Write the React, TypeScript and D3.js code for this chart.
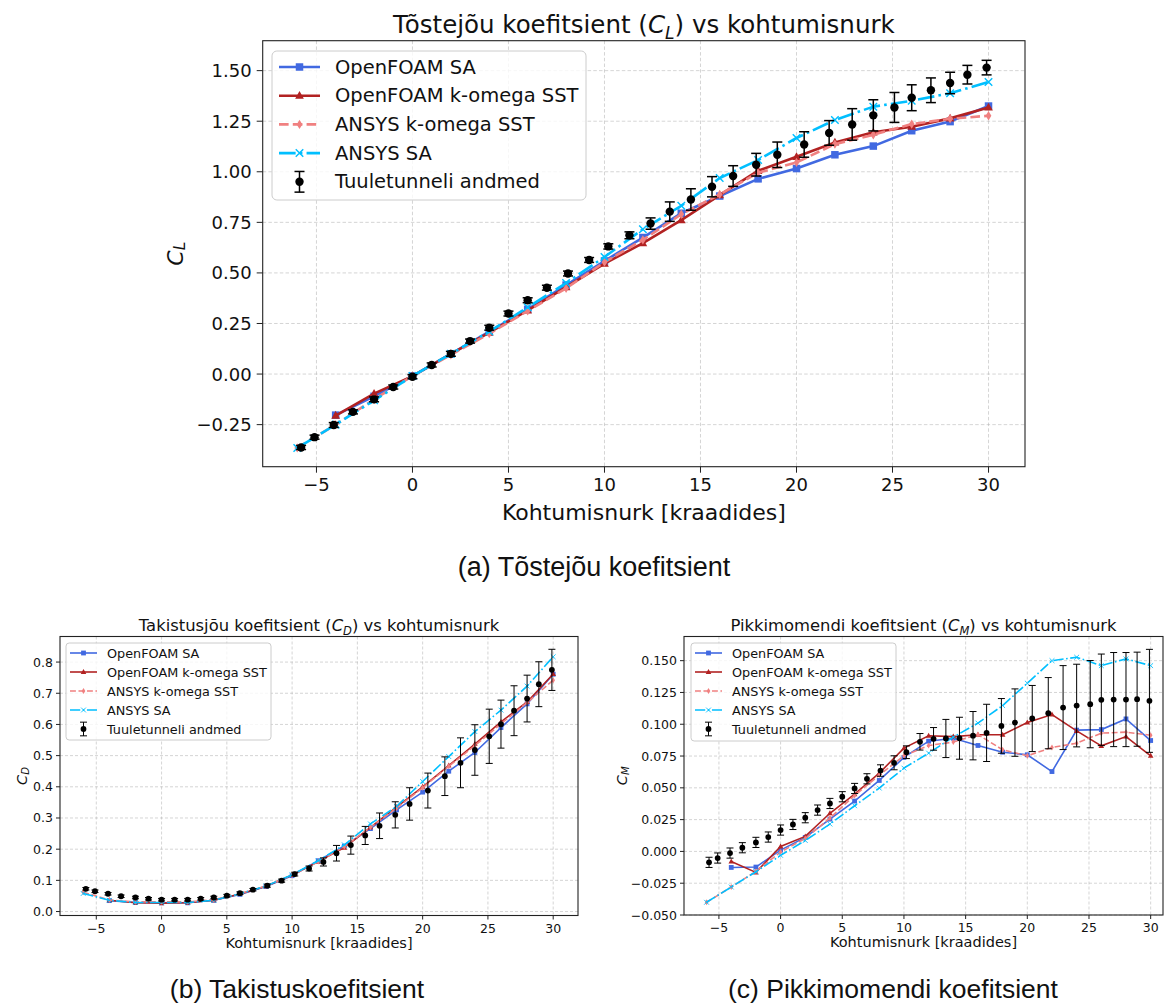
import { scaleLinear, line, format } from "d3";

const W = 1164;
const H = 1004;
const FONT = "DejaVu Sans, sans-serif";
const CAP_FONT = "Liberation Sans, Arial, sans-serif";

const BLUE = "#4169e1";
const RED = "#b22222";
const CORAL = "#f08080";
const SKY = "#00bfff";

// angles of attack
const ansysAlpha = [-6, -4, -2, 0, 2, 4, 6, 8, 10, 12, 14, 16, 18, 20, 22, 24, 26, 28, 30];
const foamAlpha = [-4, -2, 0, 2, 4, 6, 8, 10, 12, 14, 16, 18, 20, 22, 24, 26, 28, 30];
const tunnelAlpha = [-5.8, -5.1, -4.1, -3.1, -2.0, -1.0, 0.0, 1.0, 2.0, 3.0, 4.0, 5.0, 6.0, 7.0, 8.1, 9.2, 10.2, 11.3, 12.4, 13.4, 14.5, 15.6, 16.7, 17.9, 19.0, 20.4, 21.7, 22.9, 24.0, 25.1, 26.0, 27.0, 28.0, 28.9, 29.9];

// lift coefficient
const clFoamSA = [-0.203, -0.11, -0.01, 0.1, 0.21, 0.32, 0.44, 0.559, 0.675, 0.795, 0.88, 0.965, 1.016, 1.084, 1.127, 1.203, 1.248, 1.325];
const clFoamKw = [-0.205, -0.097, -0.01, 0.1, 0.205, 0.315, 0.43, 0.546, 0.647, 0.761, 0.885, 1.005, 1.074, 1.145, 1.195, 1.223, 1.264, 1.318];
const clAnsysKw = [-0.365, -0.25, -0.125, -0.01, 0.095, 0.2, 0.312, 0.424, 0.553, 0.663, 0.79, 0.888, 0.995, 1.046, 1.137, 1.183, 1.236, 1.262, 1.277];
const clAnsysSA = [-0.365, -0.25, -0.13, -0.01, 0.1, 0.21, 0.33, 0.45, 0.579, 0.716, 0.832, 0.969, 1.058, 1.167, 1.256, 1.322, 1.351, 1.388, 1.444];
const clTunnel = [-0.363, -0.312, -0.252, -0.187, -0.125, -0.064, -0.013, 0.045, 0.1, 0.163, 0.229, 0.299, 0.365, 0.427, 0.497, 0.564, 0.631, 0.686, 0.744, 0.803, 0.863, 0.926, 0.979, 1.035, 1.084, 1.135, 1.192, 1.234, 1.279, 1.318, 1.366, 1.403, 1.439, 1.48, 1.515];
const clErr = [0.01, 0.01, 0.012, 0.01, 0.012, 0.01, 0.01, 0.01, 0.012, 0.01, 0.012, 0.012, 0.012, 0.012, 0.012, 0.012, 0.013, 0.017, 0.028, 0.048, 0.053, 0.05, 0.051, 0.056, 0.063, 0.063, 0.061, 0.078, 0.077, 0.074, 0.064, 0.061, 0.053, 0.046, 0.036];

// drag coefficient
const cdFoamSA = [0.035, 0.029, 0.028, 0.028, 0.036, 0.055, 0.08, 0.115, 0.163, 0.21, 0.266, 0.326, 0.383, 0.45, 0.51, 0.59, 0.666, 0.761];
const cdFoamKw = [0.036, 0.028, 0.027, 0.028, 0.036, 0.056, 0.081, 0.117, 0.16, 0.205, 0.27, 0.335, 0.4, 0.468, 0.537, 0.608, 0.672, 0.762];
const cdAnsysKw = [0.062, 0.037, 0.031, 0.031, 0.031, 0.038, 0.057, 0.082, 0.116, 0.16, 0.208, 0.27, 0.332, 0.397, 0.466, 0.532, 0.602, 0.67, 0.742];
const cdAnsysSA = [0.058, 0.036, 0.029, 0.029, 0.029, 0.036, 0.057, 0.082, 0.118, 0.163, 0.214, 0.281, 0.337, 0.417, 0.497, 0.577, 0.646, 0.723, 0.817];
const cdTunnel = [0.073, 0.065, 0.057, 0.049, 0.045, 0.041, 0.038, 0.038, 0.038, 0.041, 0.045, 0.051, 0.059, 0.07, 0.083, 0.099, 0.12, 0.138, 0.159, 0.187, 0.213, 0.244, 0.275, 0.31, 0.345, 0.388, 0.434, 0.477, 0.518, 0.562, 0.601, 0.644, 0.683, 0.729, 0.775];
const cdErr = [0.004, 0.004, 0.004, 0.004, 0.004, 0.004, 0.004, 0.004, 0.004, 0.004, 0.004, 0.004, 0.004, 0.004, 0.005, 0.005, 0.006, 0.008, 0.013, 0.025, 0.029, 0.029, 0.041, 0.042, 0.052, 0.056, 0.062, 0.08, 0.081, 0.087, 0.077, 0.08, 0.075, 0.072, 0.066];

// pitching moment coefficient
const cmFoamSA = [-0.0126, -0.0123, 0.001, 0.011, 0.0254, 0.0396, 0.0558, 0.0739, 0.0867, 0.089, 0.0833, 0.078, 0.076, 0.0628, 0.0954, 0.0958, 0.1042, 0.0872];
const cmFoamKw = [-0.0079, -0.0165, 0.0039, 0.0118, 0.03, 0.045, 0.0616, 0.0812, 0.0909, 0.0903, 0.0917, 0.0917, 0.1013, 0.1076, 0.0948, 0.083, 0.0903, 0.0752];
const cmAnsysKw = [-0.04, -0.028, -0.0157, -0.0005, 0.0102, 0.0262, 0.044, 0.06, 0.0752, 0.0833, 0.086, 0.0919, 0.0799, 0.0752, 0.0817, 0.0851, 0.093, 0.0938, 0.0914];
const cmAnsysSA = [-0.04, -0.028, -0.016, -0.0031, 0.0086, 0.0215, 0.0359, 0.0498, 0.0655, 0.0773, 0.0899, 0.1009, 0.1147, 0.1323, 0.15, 0.1527, 0.1461, 0.1514, 0.1461];
const cmTunnel = [-0.0086, -0.0052, -0.0013, 0.0029, 0.0071, 0.0113, 0.0168, 0.0212, 0.0265, 0.0325, 0.0377, 0.043, 0.0495, 0.0571, 0.0636, 0.0697, 0.078, 0.0862, 0.0885, 0.0888, 0.089, 0.091, 0.0932, 0.0987, 0.1013, 0.1045, 0.1087, 0.1131, 0.1147, 0.1158, 0.1192, 0.1194, 0.1194, 0.1197, 0.1184];
const cmErr = [0.004, 0.004, 0.004, 0.004, 0.004, 0.004, 0.004, 0.004, 0.004, 0.004, 0.004, 0.004, 0.004, 0.004, 0.0045, 0.0055, 0.005, 0.0065, 0.0089, 0.015, 0.0165, 0.019, 0.0225, 0.0215, 0.0265, 0.026, 0.028, 0.033, 0.0325, 0.0343, 0.036, 0.037, 0.037, 0.037, 0.0405];

const xTickVals = [-5, 0, 5, 10, 15, 20, 25, 30];
const clTicks = [-0.25, 0, 0.25, 0.5, 0.75, 1.0, 1.25, 1.5];
const cdTicks = [0, 0.1, 0.2, 0.3, 0.4, 0.5, 0.6, 0.7, 0.8];
const cmTicks = [-0.05, -0.025, 0, 0.025, 0.05, 0.075, 0.1, 0.125, 0.15];

const legendNames = ["OpenFOAM SA", "OpenFOAM k-omega SST", "ANSYS k-omega SST", "ANSYS SA", "Tuuletunneli andmed"];

type Mk = "s" | "^" | "d" | "x";

function Marker({ kind, cx, cy, s, color, lw }: { kind: Mk; cx: number; cy: number; s: number; color: string; lw: number }) {
  if (kind === "s") return <rect x={cx - s / 2} y={cy - s / 2} width={s} height={s} fill={color} />;
  if (kind === "^")
    return <path d={`M${cx},${cy - s * 0.62}L${cx + s * 0.58},${cy + s * 0.42}L${cx - s * 0.58},${cy + s * 0.42}Z`} fill={color} />;
  if (kind === "d")
    return <path d={`M${cx},${cy - s * 0.62}L${cx + s * 0.38},${cy}L${cx},${cy + s * 0.62}L${cx - s * 0.38},${cy}Z`} fill={color} />;
  const h = s * 0.5;
  return (
    <path d={`M${cx - h},${cy - h}L${cx + h},${cy + h}M${cx - h},${cy + h}L${cx + h},${cy - h}`} stroke={color} strokeWidth={lw * 0.55} fill="none" />
  );
}

type St = {
  tick: number; label: number; title: number; legend: number; lw: number; ms: number; r: number;
  tickLen: number; cap: number; errLw: number; grid: string; titleGap: number; tickGap: number; labelGap: number;
  yTickGap: number; yLabGap: number; leg: { x: number; y: number; w: number; h: number; row: number; y0: number; h0: number; h1: number; tx: number };
};

type PanelProps = {
  fr: { l: number; r: number; t: number; b: number };
  xd: [number, number];
  yd: [number, number];
  yTicks: number[];
  yFmt: string;
  st: St;
  titleA: string;
  sub: string;
  foamSA: number[];
  foamKw: number[];
  ansysKw: number[];
  ansysSA: number[];
  tunnel: number[];
  err: number[];
};

function Panel(p: PanelProps) {
  const { fr, st } = p;
  const x = scaleLinear().domain(p.xd).range([fr.l, fr.r]);
  const y = scaleLinear().domain(p.yd).range([fr.b, fr.t]);
  const fy = format(p.yFmt);
  const fx = format("d");
  const ln = line<number>();

  const series = [
    { xs: foamAlpha, ys: p.foamSA, color: BLUE, dash: undefined as string | undefined, mk: "s" as Mk },
    { xs: foamAlpha, ys: p.foamKw, color: RED, dash: undefined, mk: "^" as Mk },
    { xs: ansysAlpha, ys: p.ansysKw, color: CORAL, dash: `${st.lw * 3.7},${st.lw * 1.6}`, mk: "d" as Mk },
    { xs: ansysAlpha, ys: p.ansysSA, color: SKY, dash: `${st.lw * 6.4},${st.lw * 1.6},${st.lw},${st.lw * 1.6}`, mk: "x" as Mk },
  ];

  const path = (xs: number[], ys: number[]) =>
    line<number>()
      .x((_, i) => x(xs[i]))
      .y((d) => y(d))(ys) || "";

  const cx = (fr.l + fr.r) / 2;
  const cy = (fr.t + fr.b) / 2;
  const lg = st.leg;
  void ln;

  return (
    <g fontFamily={FONT}>
      {/* grid */}
      {xTickVals.map((v) => (
        <line key={`gx${v}`} x1={x(v)} x2={x(v)} y1={fr.t} y2={fr.b} stroke="#b0b0b0" strokeOpacity={0.6} strokeWidth={0.9} strokeDasharray={st.grid} />
      ))}
      {p.yTicks.map((v) => (
        <line key={`gy${v}`} x1={fr.l} x2={fr.r} y1={y(v)} y2={y(v)} stroke="#b0b0b0" strokeOpacity={0.6} strokeWidth={0.9} strokeDasharray={st.grid} />
      ))}

      {/* series */}
      {series.map((s, i) => (
        <g key={i}>
          <path d={path(s.xs, s.ys)} fill="none" stroke={s.color} strokeWidth={st.lw} strokeDasharray={s.dash} />
          {s.ys.map((v, j) => (
            <Marker key={j} kind={s.mk} cx={x(s.xs[j])} cy={y(v)} s={st.ms} color={s.color} lw={st.lw} />
          ))}
        </g>
      ))}

      {/* wind tunnel data with error bars */}
      {p.tunnel.map((v, j) => {
        const px = x(tunnelAlpha[j]);
        const lo = y(v - p.err[j]);
        const hi = y(v + p.err[j]);
        return (
          <g key={`t${j}`} stroke="#000" strokeWidth={st.errLw}>
            <line x1={px} x2={px} y1={lo} y2={hi} />
            <line x1={px - st.cap} x2={px + st.cap} y1={lo} y2={lo} />
            <line x1={px - st.cap} x2={px + st.cap} y1={hi} y2={hi} />
            <circle cx={px} cy={y(v)} r={st.r} fill="#000" stroke="none" />
          </g>
        );
      })}

      {/* frame */}
      <rect x={fr.l} y={fr.t} width={fr.r - fr.l} height={fr.b - fr.t} fill="none" stroke="#222" strokeWidth={1.1} />

      {/* ticks */}
      {xTickVals.map((v) => (
        <g key={`tx${v}`}>
          <line x1={x(v)} x2={x(v)} y1={fr.b} y2={fr.b + st.tickLen} stroke="#222" strokeWidth={1} />
          <text x={x(v)} y={fr.b + st.tickGap} textAnchor="middle" fontSize={st.tick} fill="#111">
            {fx(v)}
          </text>
        </g>
      ))}
      {p.yTicks.map((v) => (
        <g key={`ty${v}`}>
          <line x1={fr.l - st.tickLen} x2={fr.l} y1={y(v)} y2={y(v)} stroke="#222" strokeWidth={1} />
          <text x={fr.l - st.yTickGap} y={y(v)} textAnchor="end" dominantBaseline="central" fontSize={st.tick} fill="#111">
            {fy(v)}
          </text>
        </g>
      ))}

      {/* labels */}
      <text x={cx} y={fr.t - st.titleGap} textAnchor="middle" fontSize={st.title} fill="#111">
        {p.titleA} (<tspan fontStyle="italic">C</tspan>
        <tspan fontStyle="italic" fontSize={st.title * 0.7} dy={st.title * 0.22}>{p.sub}</tspan>
        <tspan dy={-st.title * 0.22}>) vs kohtumisnurk</tspan>
      </text>
      <text x={cx} y={fr.b + st.labelGap} textAnchor="middle" fontSize={st.label} fill="#111">
        Kohtumisnurk [kraadides]
      </text>
      <text transform={`translate(${fr.l - st.yLabGap},${cy}) rotate(-90)`} textAnchor="middle" dominantBaseline="central" fontSize={st.label} fill="#111">
        <tspan fontStyle="italic">C</tspan>
        <tspan fontStyle="italic" fontSize={st.label * 0.7} dy={st.label * 0.22}>{p.sub}</tspan>
      </text>

      {/* legend */}
      <rect x={lg.x} y={lg.y} width={lg.w} height={lg.h} rx={st.legend * 0.25} fill="#fff" fillOpacity={0.8} stroke="#cccccc" strokeWidth={1} />
      {legendNames.map((name, i) => {
        const ry = lg.y0 + i * lg.row;
        const mid = (lg.h0 + lg.h1) / 2;
        const s = series[i];
        return (
          <g key={name}>
            {s ? (
              <>
                <line x1={lg.h0} x2={lg.h1} y1={ry} y2={ry} stroke={s.color} strokeWidth={st.lw} strokeDasharray={s.dash} />
                <Marker kind={s.mk} cx={mid} cy={ry} s={st.ms} color={s.color} lw={st.lw} />
              </>
            ) : (
              <g stroke="#000" strokeWidth={st.errLw}>
                <line x1={mid} x2={mid} y1={ry - lg.row * 0.36} y2={ry + lg.row * 0.36} />
                <line x1={mid - st.cap} x2={mid + st.cap} y1={ry - lg.row * 0.36} y2={ry - lg.row * 0.36} />
                <line x1={mid - st.cap} x2={mid + st.cap} y1={ry + lg.row * 0.36} y2={ry + lg.row * 0.36} />
                <circle cx={mid} cy={ry} r={st.r} fill="#000" stroke="none" />
              </g>
            )}
            <text x={lg.tx} y={ry} dominantBaseline="central" fontSize={st.legend} fill="#111">
              {name}
            </text>
          </g>
        );
      })}
    </g>
  );
}

const bigStyle: St = {
  tick: 18, label: 22, title: 24.5, legend: 19.5, lw: 2.6, ms: 7.5, r: 4.2,
  tickLen: 6, cap: 5, errLw: 1.5, grid: "3.5,2.2", titleGap: 7.5, tickGap: 24.5, labelGap: 53,
  yTickGap: 11, yLabGap: 88,
  leg: { x: 272, y: 51, w: 314, h: 149, row: 28.7, y0: 67, h0: 279, h1: 320, tx: 335 },
};

const smallBase = {
  tick: 12.5, label: 14.5, title: 16.4, legend: 12.8, lw: 1.6, ms: 4.8, r: 2.9,
  tickLen: 4, cap: 3.5, errLw: 1, grid: "3,2", titleGap: 5.5, tickGap: 17, labelGap: 32, yTickGap: 7,
};

const cdStyle: St = { ...smallBase, yLabGap: 38, leg: { x: 66, y: 643, w: 205, h: 97, row: 19, y0: 653, h0: 70, h1: 97, tx: 107 } };
const cmStyle: St = { ...smallBase, yLabGap: 62, leg: { x: 691, y: 643, w: 205, h: 98, row: 19, y0: 653, h0: 695, h1: 722, tx: 732 } };

export default function App() {
  return (
    <svg width={W} height={H} viewBox={`0 0 ${W} ${H}`} style={{ position: "absolute", left: 0, top: 0, background: "#fff" }}>
      <rect width={W} height={H} fill="#fff" />
      <Panel
        fr={{ l: 262.7, r: 1025, t: 40.7, b: 466.7 }}
        xd={[-7.8, 31.9]}
        yd={[-0.458, 1.648]}
        yTicks={clTicks}
        yFmt=".2f"
        st={bigStyle}
        titleA="Tõstejõu koefitsient"
        sub="L"
        foamSA={clFoamSA}
        foamKw={clFoamKw}
        ansysKw={clAnsysKw}
        ansysSA={clAnsysSA}
        tunnel={clTunnel}
        err={clErr}
      />
      <Panel
        fr={{ l: 60, r: 578, t: 636.5, b: 915.5 }}
        xd={[-7.78, 31.9]}
        yd={[-0.0127, 0.882]}
        yTicks={cdTicks}
        yFmt=".1f"
        st={cdStyle}
        titleA="Takistusjõu koefitsient"
        sub="D"
        foamSA={cdFoamSA}
        foamKw={cdFoamKw}
        ansysKw={cdAnsysKw}
        ansysSA={cdAnsysSA}
        tunnel={cdTunnel}
        err={cdErr}
      />
      <Panel
        fr={{ l: 684, r: 1163, t: 636.5, b: 915 }}
        xd={[-7.83, 31.0]}
        yd={[-0.05, 0.169]}
        yTicks={cmTicks}
        yFmt=".3f"
        st={cmStyle}
        titleA="Pikkimomendi koefitsient"
        sub="M"
        foamSA={cmFoamSA}
        foamKw={cmFoamKw}
        ansysKw={cmAnsysKw}
        ansysSA={cmAnsysSA}
        tunnel={cmTunnel}
        err={cmErr}
      />
      <g fontFamily={CAP_FONT} fill="#111" textAnchor="middle">
        <text x={594} y={576} fontSize={27}>(a) Tõstejõu koefitsient</text>
        <text x={297} y={998} fontSize={26.5}>(b) Takistuskoefitsient</text>
        <text x={893} y={998} fontSize={26.5}>(c) Pikkimomendi koefitsient</text>
      </g>
    </svg>
  );
}
